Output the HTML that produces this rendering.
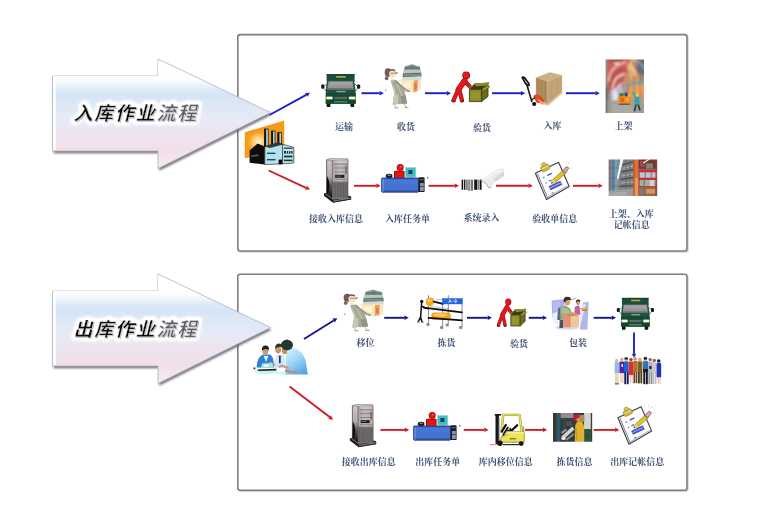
<!DOCTYPE html>
<html lang="zh-CN">
<head>
<meta charset="utf-8">
<title>入库作业流程 / 出库作业流程</title>
<style>
html,body{margin:0;padding:0;background:#fff;}
#root{position:relative;width:759px;height:521px;overflow:hidden;background:#fff;font-family:"Liberation Serif",serif;}
#root svg{position:absolute;left:0;top:0;display:block;}
.lb{font-family:"Liberation Serif","Noto Serif CJK SC",serif;font-size:9px;font-weight:bold;}
.hd{font-family:"Liberation Sans","Noto Sans CJK SC",sans-serif;font-size:19px;font-weight:bold;}
</style>
</head>
<body>
<div id="root">
<svg width="759" height="521" viewBox="0 0 759 521">
<defs>
<linearGradient id="ag" x1="0" y1="59" x2="0" y2="168.5" gradientUnits="userSpaceOnUse">
<stop offset="0" stop-color="#ffffff"/><stop offset="0.178" stop-color="#ffffff"/><stop offset="0.228" stop-color="#eef6fc"/>
<stop offset="0.283" stop-color="#dbeaf8"/><stop offset="0.335" stop-color="#d5e5f6"/><stop offset="0.42" stop-color="#dde7f6"/><stop offset="0.55" stop-color="#e7eaf6"/>
<stop offset="0.72" stop-color="#eee3ed"/><stop offset="0.84" stop-color="#f2dfe8"/><stop offset="1" stop-color="#f5ecf1"/>
</linearGradient>
<filter id="sh" x="-5%" y="-10%" width="110%" height="120%"><feGaussianBlur stdDeviation="0.8"/></filter>
<filter id="glow" x="-5%" y="-30%" width="110%" height="160%"><feGaussianBlur stdDeviation="0.9"/></filter>
<filter id="b3" x="-10%" y="-10%" width="120%" height="120%"><feGaussianBlur stdDeviation="0.35"/></filter>
<filter id="b6" x="-10%" y="-10%" width="120%" height="120%"><feGaussianBlur stdDeviation="0.6"/></filter>
<filter id="b8" x="-10%" y="-10%" width="120%" height="120%"><feGaussianBlur stdDeviation="0.8"/></filter>
<filter id="b10" x="-10%" y="-10%" width="120%" height="120%"><feGaussianBlur stdDeviation="1"/></filter>
</defs>
<rect width="759" height="521" fill="#fff"/>
<!-- panels -->
<g fill="#fff" stroke="#807e7e" stroke-width="1.6">
<rect x="238.8" y="35.6" width="449.2" height="216.4" rx="2.5" stroke="#d2d0d0" stroke-width="1.4"/>
<rect x="237.8" y="34.6" width="449.2" height="216.4" rx="2.5"/>
<rect x="238.8" y="275.2" width="449.2" height="216.1" rx="2.5" stroke="#d2d0d0" stroke-width="1.4"/>
<rect x="237.8" y="274.2" width="449.2" height="216.1" rx="2.5"/>
</g>
<!-- big arrows -->

<g transform="translate(0 0)">
  <path d="M52.5 76 H158 V59 L270.5 112.5 L158 168.5 V151 H52.5 Z" fill="#5c5e66" transform="translate(1.2 2.3)" filter="url(#sh)" opacity="0.85"/>
  <path d="M52.5 76 H158 V59 L270.5 112.5 L158 168.5 V151 H52.5 Z" fill="url(#ag)" stroke="#b4b6bc" stroke-width="0.8" stroke-linejoin="round"/>
  <path d="M53.5 77 H159 V61" fill="none" stroke="#fff" stroke-width="2" opacity="0.9"/>
  <path d="M54.5 77 V150" fill="none" stroke="#fff" stroke-width="3" opacity="0.8"/>
</g>

<g transform="translate(0 215)">
  <path d="M52.5 76 H158 V59 L270.5 112.5 L158 168.5 V151 H52.5 Z" fill="#5c5e66" transform="translate(1.2 2.3)" filter="url(#sh)" opacity="0.85"/>
  <path d="M52.5 76 H158 V59 L270.5 112.5 L158 168.5 V151 H52.5 Z" fill="url(#ag)" stroke="#b4b6bc" stroke-width="0.8" stroke-linejoin="round"/>
  <path d="M53.5 77 H159 V61" fill="none" stroke="#fff" stroke-width="2" opacity="0.9"/>
  <path d="M54.5 77 V150" fill="none" stroke="#fff" stroke-width="3" opacity="0.8"/>
</g>

<g filter="url(#glow)" fill="#fff" stroke="#fff" stroke-width="8" stroke-linejoin="round"><text class="hd" transform="translate(73.4 119.6) skewX(-14)" x="0 20.75 41.5 62.25 83 103.75" y="0">入库作业流程</text></g>
<g fill="#8e8e96" transform="translate(1.1 1.1)" opacity="0.55" filter="url(#b3)"><text class="hd" transform="translate(73.4 119.6) skewX(-14)" x="0 20.75 41.5 62.25 83 103.75" y="0">入库作业流程</text></g>
<g fill="#0c0c0c" stroke="#fff" stroke-width="0.35" filter="url(#b3)"><text class="hd" transform="translate(73.4 119.6) skewX(-14)" x="0 20.75 41.5 62.25" y="0">入库作业</text></g>
<g fill="#5e5e63" stroke="#fff" stroke-width="0.35" filter="url(#b3)"><text class="hd" transform="translate(73.4 119.6) skewX(-14)" x="83 103.75" y="0">流程</text></g>


<g filter="url(#glow)" fill="#fff" stroke="#fff" stroke-width="8" stroke-linejoin="round"><text class="hd" transform="translate(73.4 335.5) skewX(-14)" x="0 20.75 41.5 62.25 83 103.75" y="0">出库作业流程</text></g>
<g fill="#8e8e96" transform="translate(1.1 1.1)" opacity="0.55" filter="url(#b3)"><text class="hd" transform="translate(73.4 335.5) skewX(-14)" x="0 20.75 41.5 62.25 83 103.75" y="0">出库作业流程</text></g>
<g fill="#0c0c0c" stroke="#fff" stroke-width="0.35" filter="url(#b3)"><text class="hd" transform="translate(73.4 335.5) skewX(-14)" x="0 20.75 41.5 62.25" y="0">出库作业</text></g>
<g fill="#5e5e63" stroke="#fff" stroke-width="0.35" filter="url(#b3)"><text class="hd" transform="translate(73.4 335.5) skewX(-14)" x="83 103.75" y="0">流程</text></g>

<!-- flow arrows -->
<g filter="url(#b3)"><path d="M269.5 115.0 L306.2 94.9" stroke="#1c1ccc" stroke-width="1.9" fill="none"/><path d="M310.0 92.8 L307.3 96.8 L305.1 92.9 Z" fill="#1c1ccc"/><path d="M361.5 93.2 L379.5 93.2" stroke="#1c1ccc" stroke-width="1.9" fill="none"/><path d="M383.8 93.2 L379.5 95.5 L379.5 91.0 Z" fill="#1c1ccc"/><path d="M425.0 93.2 L446.7 93.2" stroke="#1c1ccc" stroke-width="1.9" fill="none"/><path d="M451.0 93.2 L446.7 95.5 L446.7 91.0 Z" fill="#1c1ccc"/><path d="M492.0 93.2 L520.9 93.2" stroke="#1c1ccc" stroke-width="1.9" fill="none"/><path d="M525.2 93.2 L520.9 95.5 L520.9 91.0 Z" fill="#1c1ccc"/><path d="M566.0 93.2 L595.5 93.2" stroke="#1c1ccc" stroke-width="1.9" fill="none"/><path d="M599.8 93.2 L595.5 95.5 L595.5 91.0 Z" fill="#1c1ccc"/><path d="M268.7 170.5 L306.1 187.8" stroke="#cf1a27" stroke-width="1.9" fill="none"/><path d="M310.0 189.6 L305.2 189.8 L307.0 185.8 Z" fill="#cf1a27"/><path d="M354.0 185.8 L376.4 185.8" stroke="#cf1a27" stroke-width="1.9" fill="none"/><path d="M380.7 185.8 L376.4 188.1 L376.4 183.6 Z" fill="#cf1a27"/><path d="M428.6 185.8 L454.7 185.8" stroke="#cf1a27" stroke-width="1.9" fill="none"/><path d="M459.0 185.8 L454.7 188.1 L454.7 183.6 Z" fill="#cf1a27"/><path d="M496.0 185.8 L528.5 185.8" stroke="#cf1a27" stroke-width="1.9" fill="none"/><path d="M532.8 185.8 L528.5 188.1 L528.5 183.6 Z" fill="#cf1a27"/><path d="M573.0 185.8 L598.5 185.8" stroke="#cf1a27" stroke-width="1.9" fill="none"/><path d="M602.8 185.8 L598.5 188.1 L598.5 183.6 Z" fill="#cf1a27"/><path d="M304.0 339.0 L333.7 320.5" stroke="#16168c" stroke-width="1.9" fill="none"/><path d="M337.3 318.2 L334.8 322.4 L332.5 318.6 Z" fill="#16168c"/><path d="M384.2 317.8 L404.4 317.8" stroke="#16168c" stroke-width="1.9" fill="none"/><path d="M408.7 317.8 L404.4 320.1 L404.4 315.6 Z" fill="#16168c"/><path d="M467.0 317.8 L487.7 317.8" stroke="#16168c" stroke-width="1.9" fill="none"/><path d="M492.0 317.8 L487.7 320.1 L487.7 315.6 Z" fill="#16168c"/><path d="M528.8 317.8 L542.7 317.8" stroke="#16168c" stroke-width="1.9" fill="none"/><path d="M547.0 317.8 L542.7 320.1 L542.7 315.6 Z" fill="#16168c"/><path d="M593.7 317.8 L611.7 317.8" stroke="#16168c" stroke-width="1.9" fill="none"/><path d="M616.0 317.8 L611.7 320.1 L611.7 315.6 Z" fill="#16168c"/><path d="M634.0 332.4 L634.0 353.7" stroke="#2020c6" stroke-width="1.9" fill="none"/><path d="M634.0 358.0 L631.8 353.7 L636.2 353.7 Z" fill="#2020c6"/><path d="M289.6 386.5 L329.6 417.1" stroke="#cf1a27" stroke-width="1.9" fill="none"/><path d="M333.0 419.7 L328.2 418.9 L331.0 415.3 Z" fill="#cf1a27"/><path d="M380.4 429.9 L404.9 429.9" stroke="#cf1a27" stroke-width="1.9" fill="none"/><path d="M409.2 429.9 L404.9 432.1 L404.9 427.6 Z" fill="#cf1a27"/><path d="M463.7 429.9 L484.3 429.9" stroke="#cf1a27" stroke-width="1.9" fill="none"/><path d="M488.6 429.9 L484.3 432.1 L484.3 427.6 Z" fill="#cf1a27"/><path d="M524.9 429.9 L542.9 429.9" stroke="#cf1a27" stroke-width="1.9" fill="none"/><path d="M547.2 429.9 L542.9 432.1 L542.9 427.6 Z" fill="#cf1a27"/><path d="M593.6 429.9 L615.1 429.9" stroke="#cf1a27" stroke-width="1.9" fill="none"/><path d="M619.4 429.9 L615.1 432.1 L615.1 427.6 Z" fill="#cf1a27"/></g>
<!-- icons -->

<!-- 01_truck.svg -->
<g id="truck" filter="url(#b3)">
  <!-- wheels -->
  <rect x="326.6" y="101.5" width="3.8" height="5.4" rx="1" fill="#0c140f"/>
  <rect x="350.4" y="101.5" width="3.8" height="5.4" rx="1" fill="#0c140f"/>
  <!-- mirrors -->
  <path d="M324.5 86 L326.5 84 M357 86 L355 84" stroke="#222" stroke-width="0.7"/>
  <rect x="321.2" y="84.6" width="3.2" height="4.2" rx="1" fill="#141a16"/>
  <rect x="357" y="84.6" width="3.2" height="4.2" rx="1" fill="#141a16"/>
  <path d="M324 88.5 L326.3 91.5 M357.6 88.5 L355.3 91.5" stroke="#333" stroke-width="0.6"/>
  <!-- cargo box -->
  <rect x="326.6" y="74.2" width="28" height="7" fill="#1c4d39"/>
  <rect x="326.6" y="74.2" width="28" height="1" fill="#16382a"/>
  <rect x="336.2" y="76" width="9.6" height="1.7" fill="#b9b83a" opacity="0.9"/>
  <!-- cab -->
  <path d="M327 80.3 H354.2 L355.6 90 V103.6 H325.8 V90 Z" fill="#1e5540"/>
  <path d="M325.8 93 H355.6 V103.6 H325.8 Z" fill="#194a37"/>
  <!-- windshield -->
  <path d="M328.4 81.2 H352.8 L353.8 89.4 H327.4 Z" fill="#96949a"/>
  <path d="M329.5 82 H351.5 L352 85 H329 Z" fill="#a7a3a9" opacity="0.8"/>
  <path d="M327.6 88.2 H353.6 L353.8 89.6 H327.4 Z" fill="#5d6a66"/>
  <!-- logo -->
  <rect x="336.5" y="90.9" width="9" height="1.3" fill="#a9b5b0" opacity="0.85"/>
  <!-- headlights -->
  <rect x="325.6" y="96.4" width="7.4" height="3.2" rx="1" fill="#f1b36a" opacity="0.55"/>
  <rect x="348.4" y="96.4" width="7.6" height="3.2" rx="1" fill="#f1b36a" opacity="0.55"/>
  <rect x="326.3" y="96.8" width="6.2" height="2.5" rx="1" fill="#ecffd8"/>
  <rect x="349" y="96.8" width="6.2" height="2.5" rx="1" fill="#ecffd8"/>
  <!-- grille -->
  <rect x="334.6" y="96.9" width="12.2" height="2.2" fill="#6f8079"/>
  <rect x="334.6" y="97.7" width="12.2" height="0.6" fill="#2a3d35"/>
  <!-- bumper -->
  <rect x="325.8" y="100.4" width="29.8" height="3.2" fill="#174331"/>
  <rect x="334" y="101.3" width="13.4" height="1.1" fill="#49a880"/>
</g>
<use href="#truck" transform="translate(310.7 225.78) scale(0.953 0.972)"/>

<!-- 02_crowd.svg -->
<g filter="url(#b6)">
  <!-- person: head, torso, legs -->
  <g>
    <circle cx="616.6" cy="360.6" r="1.7" fill="#d9b38a"/><rect x="614.6" y="362.2" width="4.4" height="11.4" fill="#93b9e6"/><rect x="614.9" y="373.4" width="3.8" height="10" fill="#e8d9a6"/><rect x="615" y="383" width="3.8" height="1.6" fill="#7a7a7a"/>
    <circle cx="621.8" cy="359.6" r="1.8" fill="#cfae9a"/><rect x="619.4" y="361.6" width="5" height="11.6" fill="#4f22a2"/><rect x="621.4" y="364" width="1.6" height="3" fill="#e9d9ee"/><rect x="620.3" y="373" width="1.3" height="9.8" fill="#eec2b0"/><rect x="622.3" y="373" width="1.3" height="9.8" fill="#eec2b0"/>
    <circle cx="626.2" cy="358.7" r="1.8" fill="#3a2a20"/><rect x="625.2" y="359.5" width="2.2" height="2" fill="#d8a888"/><rect x="623.9" y="361.4" width="4.8" height="10.6" fill="#2363d3"/><rect x="624.3" y="371.8" width="1.9" height="12.4" fill="#171f5e"/><rect x="626.8" y="371.8" width="1.9" height="12.4" fill="#171f5e"/>
    <circle cx="631" cy="359.6" r="1.7" fill="#7a4a30"/><rect x="628.9" y="361.6" width="4.4" height="13.6" rx="0.8" fill="#e22a2a"/><rect x="629.8" y="375" width="1.1" height="8.2" fill="#efc3b2"/><rect x="631.6" y="375" width="1.1" height="8.2" fill="#efc3b2"/>
    <circle cx="635.1" cy="359" r="1.7" fill="#c98d5a"/><rect x="633.2" y="361" width="4.2" height="11.4" fill="#b06f2e"/><rect x="633.5" y="372.2" width="1.6" height="11" fill="#5b3a22"/><rect x="635.7" y="372.2" width="1.6" height="11" fill="#5b3a22"/>
    <circle cx="639.9" cy="359.5" r="1.7" fill="#cfa27c"/><rect x="637.6" y="361.4" width="4.8" height="11.6" fill="#7c5e22"/><rect x="638" y="372.8" width="1.8" height="10.6" fill="#3d3a1c"/><rect x="640.4" y="372.8" width="1.8" height="10.6" fill="#3d3a1c"/>
    <circle cx="645.4" cy="358.6" r="1.8" fill="#2b2420"/><rect x="644.4" y="359.6" width="2.2" height="1.8" fill="#d8a888"/><rect x="643" y="361.2" width="5" height="11" fill="#2f6fc2"/><rect x="643" y="369" width="5" height="3.4" fill="#1a1a22"/><rect x="643.3" y="372.2" width="1.9" height="12" fill="#141418"/><rect x="645.9" y="372.2" width="1.9" height="12" fill="#141418"/>
    <circle cx="650.2" cy="359.6" r="1.7" fill="#7a6a60"/><rect x="648" y="361.6" width="4.6" height="11" fill="#a9b8c8"/><rect x="649.2" y="366" width="2.4" height="3" fill="#2a2a30"/><rect x="648.4" y="372.4" width="1.8" height="11.6" fill="#8d8f92"/><rect x="650.7" y="372.4" width="1.8" height="11.6" fill="#8d8f92"/>
    <circle cx="654.3" cy="360.4" r="1.7" fill="#8a5a6a"/><rect x="652.4" y="362.2" width="4.2" height="10.8" fill="#cfc4cc"/><rect x="652.7" y="372.8" width="1.6" height="11" fill="#b9bcc0"/><rect x="654.8" y="372.8" width="1.6" height="11" fill="#b9bcc0"/>
    <circle cx="658.7" cy="361" r="1.8" fill="#1e1c28"/><rect x="656.6" y="363" width="4.6" height="14.4" rx="1" fill="#2232b4"/><rect x="657.6" y="377.2" width="1.1" height="6.6" fill="#e4c09c"/><rect x="659.4" y="377.2" width="1.1" height="6.6" fill="#e4c09c"/>
  </g>
</g>

<!-- 03_factory.svg -->
<defs>
<radialGradient id="fglow" cx="258.5" cy="142" r="13" gradientUnits="userSpaceOnUse">
<stop offset="0" stop-color="#fff8dc"/><stop offset="0.45" stop-color="#fbd27a" stop-opacity="0.85"/><stop offset="1" stop-color="#f59a12" stop-opacity="0"/>
</radialGradient>
</defs>
<g filter="url(#b3)">
  <path d="M244.8 132.3 L284.2 120.4 V150 L244.8 158.2 Z" fill="#f59a14"/>
  <path d="M244.8 132.3 L284.2 120.4 V150 L244.8 158.2 Z" fill="url(#fglow)"/>
  <!-- chimneys -->
  <g stroke="#0d0d0d" stroke-width="0.7">
    <rect x="264.4" y="129" width="3.8" height="18" fill="#a8d8ea"/>
    <rect x="271.4" y="131" width="3.6" height="15" fill="#a8d8ea"/>
    <rect x="277.8" y="132.6" width="3.6" height="13" fill="#a8d8ea"/>
  </g>
  <rect x="264.4" y="129" width="1.7" height="18" fill="#0d0d0d"/>
  <rect x="271.4" y="131" width="1.6" height="15" fill="#0d0d0d"/>
  <rect x="277.8" y="132.6" width="1.6" height="13" fill="#0d0d0d"/>
  <!-- black left wing -->
  <path d="M249.6 150.6 L257.6 143.4 L264.8 146.4 V164.6 L249.6 162.8 Z" fill="#0e0e10"/>
  <path d="M251 155.4 L258.5 154.6 V156 L251 156.8 Z" fill="#8c8c8c" opacity="0.7"/>
  <!-- front -->
  <path d="M264.8 146.4 L278.6 142.6 L283 144.4 V163.8 L264.8 164.6 Z" fill="#b6e2ef" stroke="#0d0d0d" stroke-width="0.6"/>
  <path d="M264.8 146.4 L278.6 142.6 L283 144.4 L270 148 Z" fill="#1a1a1a" opacity="0.85"/>
  <rect x="267" y="152.6" width="8.4" height="1.4" fill="#1e4a52"/>
  <rect x="267" y="159" width="8.4" height="1.4" fill="#1e4a52"/>
  <rect x="278.6" y="159.6" width="3.6" height="4.6" fill="#0d0d0d"/>
  <!-- right wing -->
  <path d="M282.6 144.2 L293.8 147.4 V163 L282.6 163.8 Z" fill="#bfe6f1" stroke="#0d0d0d" stroke-width="0.6"/>
  <g fill="#16343c">
    <rect x="284" y="147.6" width="8.6" height="1.2"/>
    <rect x="284" y="151" width="8.6" height="2.6"/>
    <rect x="284" y="155.6" width="8.6" height="1.8"/>
    <rect x="284" y="159.6" width="8.6" height="1.6"/>
  </g>
  <g fill="#d9f1f7"><rect x="286" y="151" width="0.8" height="2.6"/><rect x="288.2" y="151" width="0.8" height="2.6"/><rect x="290.4" y="151" width="0.8" height="2.6"/></g>
</g>

<!-- 04_server.svg -->
<defs>
<linearGradient id="svside" x1="0" y1="159" x2="0" y2="197" gradientUnits="userSpaceOnUse">
<stop offset="0" stop-color="#cfc8c8"/><stop offset="0.45" stop-color="#b4acac"/><stop offset="0.7" stop-color="#5a5656"/><stop offset="1" stop-color="#141414"/>
</linearGradient>
<linearGradient id="svfront" x1="332" y1="0" x2="348" y2="0" gradientUnits="userSpaceOnUse">
<stop offset="0" stop-color="#a8a0a0"/><stop offset="0.5" stop-color="#c4bcbc"/><stop offset="1" stop-color="#b0a6a6"/>
</linearGradient>
</defs>
<g id="server" filter="url(#b3)">
  <!-- base -->
  <path d="M324 193.6 L332.4 191 L351.2 196.6 V199.6 L333 202.8 L324 195.8 Z" fill="#1a1818"/>
  <path d="M325 194 L332.6 192 L350 197 L333 200 Z" fill="#6e6a6a"/>
  <path d="M333 200 L350.8 197 V199.4 L333 202.6 Z" fill="#2a2828"/>
  <path d="M333.4 201 L350.6 198 " stroke="#c8c4c4" stroke-width="0.6"/>
  <!-- side -->
  <path d="M326.6 159.8 L332.4 160.6 V198.4 L326.6 193.4 Z" fill="url(#svside)"/>
  <path d="M327 176 Q331.5 184 328 194.4 L326.6 193.4 Z" fill="#0c0c0c"/>
  <path d="M326.6 159.8 V193.4" stroke="#3a3636" stroke-width="0.7"/>
  <!-- top -->
  <path d="M326.6 159.8 L330 158.6 L347.8 158.8 L347.8 160 L332.4 160.6 Z" fill="#d8d2d2" stroke="#5a5656" stroke-width="0.5"/>
  <!-- front -->
  <rect x="332.4" y="160.2" width="15.6" height="38.2" fill="url(#svfront)"/>
  <rect x="332.4" y="181.4" width="15.6" height="17" fill="#7a7474"/>
  <g stroke="#4e4a4a" stroke-width="0.55">
    <path d="M334 183 V197.6 M335.6 183 V197.6 M337.2 183 V197.6 M338.8 183 V197.6 M340.4 183 V197.6 M342 183 V197.6 M343.6 183 V197.6 M345.2 183 V197.6 M346.8 183 V197.6"/>
  </g>
  <g stroke="#6a6464" stroke-width="0.6">
    <path d="M334.4 164 H347.4 M334.4 168 H347.4 M334.4 172 H347.4 M334.4 179.4 H347.4"/>
  </g>
  <rect x="334.4" y="161.6" width="13" height="1.2" fill="#e2dcdc" opacity="0.7"/>
  <rect x="335.2" y="174.8" width="9.2" height="3" fill="#1c1a1a"/>
  <rect x="336.4" y="175.6" width="4.6" height="1.1" fill="#6e6a6a"/>
  <rect x="345.2" y="166" width="1.4" height="8" fill="#6a4040" opacity="0.7"/>
  <path d="M332.4 160.4 V198.4 M348 160 V198" stroke="#4a4646" stroke-width="0.6"/>
</g>
<use href="#server" transform="translate(36.58 250.98) scale(0.967 0.968)"/>

<!-- 05_carrier.svg -->
<g id="carrier" filter="url(#b6)">
  <!-- pile top layers -->
  <path d="M404.8 66.4 L412 64.2 L419.8 66.8 L420.4 70 L404.2 70 Z" fill="#66777c"/>
  <path d="M406 66.8 L412 65.2 L418 67" stroke="#9fb2b6" stroke-width="0.8" fill="none"/>
  <path d="M403.6 69.6 L420.8 69.6 L421 73.2 L403.2 73.6 Z" fill="#b9c6b8"/>
  <path d="M403 73.2 L421.2 72.8 L421.6 76.6 L402.6 77.4 Z" fill="#5b6e76"/>
  <path d="M404 75 H420.4" stroke="#9db3bb" stroke-width="0.9"/>
  <path d="M402.4 77 L421.6 76.4 L421.4 80 L401.8 80.4 Z" fill="#d8dccd"/>
  <!-- big box -->
  <path d="M401.4 79.6 L413.4 80.4 L413.2 92.4 L401.6 90.2 Z" fill="#f8e8b8"/>
  <path d="M403 82 L411 82.6 L411 88 L403 86.8 Z" fill="#fdf3d2"/>
  <path d="M413.4 80.4 L418 79.8 L417.8 91 L413.2 92.4 Z" fill="#eda264"/>
  <path d="M418 79.8 L421.4 79.2 L421 89.6 L417.8 91 Z" fill="#f6e6cb"/>
  <path d="M414.6 83.4 L416.8 83 V89 L414.6 89.6 Z" fill="#dc7038" opacity="0.85"/>
  <!-- hair / head -->
  <ellipse cx="388" cy="72.6" rx="3.3" ry="4.3" fill="#73585a"/>
  <ellipse cx="386.6" cy="78.2" rx="1.8" ry="2" fill="#7f6262"/>
  <ellipse cx="392.6" cy="73.8" rx="3.5" ry="3.8" fill="#f6e2bc"/>
  <path d="M389.6 70.6 Q392 68.8 395.2 70.8" stroke="#73585a" stroke-width="1.4" fill="none"/>
  <path d="M390.4 73.2 H396.2" stroke="#5c4a44" stroke-width="0.55"/>
  <circle cx="396.8" cy="73" r="0.8" fill="#4a3c38"/>
  <!-- neck/collar -->
  <path d="M391.6 77.6 L395 79.4 L393 82 L390.6 80 Z" fill="#f3ecdc"/>
  <!-- body -->
  <path d="M390.6 80.6 L396.6 80 L404.2 89.6 L407.2 103.4 L392.6 104.4 L394.4 93 Z" fill="#a9a998"/>
  <path d="M394.4 93 L392.6 104.4 L398 104 L398.4 95 Z" fill="#c6c6b4"/>
  <path d="M392 82 L395.6 92 L394.4 93 Z" fill="#d4d4c4"/>
  <path d="M400.4 96 L402 104 L407.2 103.4 L405.4 95 Z" fill="#93948a"/>
  <path d="M397 84 L402 96" stroke="#c9c9b8" stroke-width="0.9"/>
  <!-- arms -->
  <path d="M396 81.4 L406.4 90.4 L409 91.2" stroke="#97988a" stroke-width="1.9" fill="none" stroke-linecap="round"/>
  <path d="M398.6 80.6 L403 80.2" stroke="#f3e8d0" stroke-width="1.3"/>
  <circle cx="385.8" cy="90.1" r="0.55" fill="#222a55"/>
  <!-- legs -->
  <path d="M394.6 104 L396 108 M404 103.6 L406.4 107.4" stroke="#c9c4ac" stroke-width="1.1"/>
  <path d="M394.4 108 H398.4 M404.6 107.6 H408.4" stroke="#9a9786" stroke-width="0.9"/>
</g>
<use href="#carrier" transform="translate(-75.3 229.7) scale(1.089 0.936)"/>

<!-- 06_inspect.svg -->
<g id="inspect" filter="url(#b3)">
  <!-- person (dark outline then red) -->
  <g stroke="#7a1010" stroke-width="5.6" stroke-linecap="round" stroke-linejoin="round" fill="none">
    <path d="M464.6 80.6 L458.4 89.6"/>
  </g>
  <g stroke="#7a1010" stroke-width="4.2" stroke-linecap="round" stroke-linejoin="round" fill="none">
    <path d="M458.4 89.6 L453.4 100.4 M459.4 90 L462 100.4"/>
    <path d="M464.8 81 L469.6 86.4"/>
  </g>
  <circle cx="466.2" cy="75.3" r="3.9" fill="#7a1010"/>
  <g stroke="#e5191c" stroke-width="4.6" stroke-linecap="round" stroke-linejoin="round" fill="none">
    <path d="M464.6 80.6 L458.4 89.6"/>
  </g>
  <g stroke="#e5191c" stroke-width="3.2" stroke-linecap="round" stroke-linejoin="round" fill="none">
    <path d="M458.4 89.6 L453.4 100.4 M459.4 90 L462 100.4"/>
    <path d="M464.8 81 L469.6 86.4"/>
  </g>
  <circle cx="466.2" cy="75.3" r="3.2" fill="#e5191c"/>
  <path d="M451.6 101.2 H455.6 M460.4 101.2 H464" stroke="#a01414" stroke-width="1.6"/>
  <!-- box -->
  <path d="M469.4 89.4 L474.6 83.6 L489.6 82.6 L481.6 89.4 Z" fill="#3c3a12"/>
  <path d="M474.6 83.6 L489.6 82.6 L488 85.2 L476 86.4 Z" fill="#8f8c2c"/>
  <path d="M469.4 89.4 L468 87.2 L473.4 85.2 L474.6 83.6 Z" fill="#77751f"/>
  <path d="M469.4 89.4 H481.6 V101.6 H469.4 Z" fill="#8b8928" stroke="#35330f" stroke-width="0.8"/>
  <path d="M481.6 89.4 L488 85 V96.4 L481.6 101.6 Z" fill="#6c6a1b" stroke="#35330f" stroke-width="0.8"/>
  <path d="M481.6 89.4 L488 85 L489.8 86.8 L483.6 91.2 Z" fill="#9a9736" stroke="#35330f" stroke-width="0.5"/>
  <rect x="471" y="91.4" width="8.6" height="8" fill="#9c9a36" opacity="0.6"/>
</g>
<use href="#inspect" transform="translate(147.45 233.17) scale(0.774 0.914)"/>

<!-- 07_palletjack.svg -->
<g filter="url(#b6)">
  <!-- pallet -->
  <path d="M536.4 96.4 L547.8 103.4 L562.2 90.6 V93.4 L547.8 106 L536.4 99 Z" fill="#dcc7a0"/>
  <!-- box faces -->
  <path d="M535.9 77.4 L549.8 72.3 L562.1 75.3 L547.7 81.6 Z" fill="#cdb084"/>
  <path d="M535.9 77.4 L547.7 81.6 V104 L535.9 96.8 Z" fill="#b08e5e"/>
  <path d="M547.7 81.6 L562.1 75.3 V91.2 L547.7 104 Z" fill="#c3a377"/>
  <path d="M539 78.6 V98.6 M542 79.8 V100.4 M545 80.8 V102.2" stroke="#9a7a4e" stroke-width="0.7" opacity="0.8"/>
  <path d="M552 79.8 V100 M557 77.6 V95.6" stroke="#b09066" stroke-width="0.6" opacity="0.7"/>
  <!-- red jack body -->
  <path d="M533.2 96 Q536 93.4 540 95.4 L544.4 100.2 L543 103.6 L536.6 102.8 Z" fill="#dc4a22"/>
  <path d="M537 98.4 L544 102.6 L546 104.6 L541 104.4 Z" fill="#f3a37a"/>
  <!-- handle -->
  <path d="M522.3 77.4 Q523.6 76.4 525.2 78.4 L528.8 83.6 Q529.6 85.6 528 85.6 Q526.4 85.2 525 82.6 Z" fill="none" stroke="#101010" stroke-width="1.7"/>
  <path d="M526.6 84 L531.8 101.6" stroke="#1a1a1a" stroke-width="1.6" stroke-linecap="round"/>
  <path d="M531.6 100 L535 97.4" stroke="#151515" stroke-width="1.2"/>
  <circle cx="534.2" cy="104" r="2.1" fill="#0e0e0e"/>
</g>

<!-- 08_warehouse.svg -->
<defs><clipPath id="whc"><rect x="605.6" y="59.6" width="38.4" height="53.3"/></clipPath></defs>
<g clip-path="url(#whc)">
<g filter="url(#b8)">
  <rect x="603" y="57" width="44" height="58" fill="#a29f98"/>
  <!-- red ceiling -->
  <path d="M603 57 H632 L628 72 L622 86 L612 90 L606 96 L603 96 Z" fill="#c9605c"/>
  <path d="M606 57 H626 L620 62 L611 62 Z" fill="#b04a48"/>
  <!-- arches (concentric) -->
  <path d="M608.4 82 Q610 64.6 626.6 62.4" stroke="#f1bdb4" stroke-width="1.7" fill="none"/>
  <path d="M611 86 Q612 70.6 626 68.8" stroke="#a94444" stroke-width="1.6" fill="none"/>
  <path d="M612.6 88 Q614 75.4 625 74.2" stroke="#f6cfc6" stroke-width="1.7" fill="none"/>
  <path d="M615 90 Q616 80 623.6 79.4" stroke="#b65050" stroke-width="1.4" fill="none"/>
  <path d="M616.4 91 Q617.4 84 622.6 83.6" stroke="#f3d0cc" stroke-width="1.4" fill="none"/>
  <ellipse cx="616.8" cy="63.2" rx="2.8" ry="1.3" fill="#f7ecd0"/>
  <ellipse cx="616.6" cy="61.6" rx="2" ry="1" fill="#47684c"/>
  <!-- far corridor light -->
  <path d="M611 90 L621 85 L623 98 L612 101 Z" fill="#cfc7df"/>
  <path d="M613 92 L617 90 L617.6 100 L613.6 101 Z" fill="#e9e4f2"/>
  <path d="M619 88 V99" stroke="#8b86b0" stroke-width="1.2"/>
  <!-- right building orange -->
  <path d="M630 60 L646 57 V100 L622 98 L624 84 Z" fill="#dc9a62"/>
  <path d="M627 66 L633 60 L637 62 L636 76 L628 78 Z" fill="#e8ab72"/>
  <path d="M628 64 L632 70 M631 62 L635 74" stroke="#f6dcb8" stroke-width="0.8"/>
  <!-- slate beams top right -->
  <path d="M636 57 H647 V78 L638 72 Z" fill="#5f6a80"/>
  <path d="M637 60 L646 70" stroke="#dfe4ec" stroke-width="0.9"/>
  <path d="M633 62 L646 86" stroke="#59667e" stroke-width="1.8"/>
  <!-- teal band -->
  <path d="M622 84.6 L646 79 V83 L622 88 Z" fill="#7fa39a"/>
  <path d="M624 90.6 L646 88.6" stroke="#6d8fb0" stroke-width="1.5"/>
  <path d="M628 70 V98 M634 76 V98 M640 72 V100" stroke="#7f7480" stroke-width="0.9"/>
  <rect x="629.2" y="86.4" width="4.4" height="7.4" fill="#f09c48"/>
  <rect x="635.2" y="85" width="4.2" height="8.4" fill="#f2a552"/>
  <rect x="640.8" y="84" width="3.4" height="9" fill="#eea050"/>
  <!-- left column -->
  <rect x="603" y="57" width="4.4" height="60" fill="#8f8d83"/>
  <rect x="603" y="88" width="4.6" height="28" fill="#6a6963"/>
  <path d="M608 84 V100" stroke="#77716d" stroke-width="1"/>
  <!-- floor -->
  <path d="M607.6 101 L646 98 V116 H607.6 Z" fill="#9f9e97"/>
  <path d="M612 104 L630 103 L634 113 H612 Z" fill="#aaa9a3"/>
</g>
<g filter="url(#b6)">
  <!-- forklift -->
  <rect x="618.4" y="95.8" width="12.2" height="7.8" rx="1" fill="#f28a1a"/>
  <rect x="620.4" y="97.8" width="3.6" height="4.2" fill="#e2620e"/>
  <rect x="626" y="98" width="3" height="3.6" fill="#f7a83a"/>
  <rect x="619.6" y="93" width="4" height="3.2" fill="#3d7f45"/>
  <rect x="624.6" y="92.6" width="3" height="3.6" fill="#2a3f9a"/>
  <rect x="628" y="93.4" width="2.6" height="3" fill="#c9c23a"/>
  <path d="M619 104.2 H630" stroke="#5a4a3a" stroke-width="1.2"/>
  <!-- person -->
  <path d="M636 97 L633 92.6" stroke="#3aa7ad" stroke-width="1.8" stroke-linecap="round"/>
  <rect x="634.6" y="96.8" width="4.8" height="8" rx="1" fill="#32a2aa"/>
  <circle cx="637.4" cy="95" r="1.7" fill="#ead24a"/>
  <path d="M636 104.6 L634.4 111.2 M638.2 104.6 L640 110.6" stroke="#2e3636" stroke-width="1.6"/>
</g>
</g>

<!-- 09_desk.svg -->
<defs>
<linearGradient id="deskg" x1="0" y1="178" x2="0" y2="192.6" gradientUnits="userSpaceOnUse">
<stop offset="0" stop-color="#2f55b4"/><stop offset="0.15" stop-color="#4a78d6"/><stop offset="0.8" stop-color="#4170d0"/><stop offset="1" stop-color="#23408e"/>
</linearGradient>
</defs>
<g id="desk" filter="url(#b3)">
  <!-- phone -->
  <ellipse cx="389.1" cy="175.9" rx="3.4" ry="2.2" fill="#15181a"/>
  <ellipse cx="389.1" cy="175.4" rx="1.8" ry="0.8" fill="#7d8a8c"/>
  <!-- person -->
  <rect x="394" y="170.8" width="10.6" height="8" rx="1" fill="#8c0f0f"/>
  <rect x="394.8" y="171.5" width="9" height="7" fill="#e41313"/>
  <circle cx="400.2" cy="167.6" r="3.5" fill="#8c0f0f"/>
  <circle cx="400.2" cy="167.6" r="2.8" fill="#e61616"/>
  <circle cx="400.8" cy="166.8" r="1" fill="#f06060" opacity="0.8"/>
  <!-- monitor -->
  <rect x="405" y="167" width="11.2" height="10.6" fill="#c9d6ee"/>
  <rect x="405.7" y="167.8" width="9.8" height="9" fill="#3cc2b6"/>
  <rect x="408.4" y="170" width="4" height="4" fill="#22337f"/>
  <rect x="407.6" y="177.4" width="6.4" height="1.6" fill="#d9a9d3"/>
  <!-- desk -->
  <rect x="381.6" y="178" width="37" height="14.2" rx="0.8" fill="url(#deskg)" stroke="#1d357a" stroke-width="0.8"/>
  <rect x="382.4" y="179" width="1.4" height="12.8" fill="#7fa2e8" opacity="0.6"/>
  <!-- tower -->
  <rect x="418.4" y="177.2" width="6.2" height="14.9" rx="0.8" fill="#1c1d25"/>
  <rect x="420" y="183" width="3.8" height="8" fill="#8797a8"/>
  <rect x="420" y="186" width="3.8" height="1" fill="#3a4250"/>
  <rect x="419.4" y="179" width="4.4" height="1.4" fill="#50535e"/>
  <circle cx="427.8" cy="177.8" r="0.7" fill="#5a2a3a"/>
</g>
<use href="#desk" transform="translate(32 248)"/>

<!-- 10_barcode.svg -->
<g filter="url(#b6)">
  <!-- barcode -->
  <g>
    <rect x="461.6" y="179.6" width="1.5" height="10.2" fill="#151515"/>
    <rect x="463.9" y="179.6" width="1.5" height="10.2" fill="#1c1c1c"/>
    <rect x="466.2" y="179.6" width="1.5" height="10.4" fill="#6a6a6a"/>
    <rect x="468.2" y="179.6" width="2.2" height="11.4" fill="#8c8c8c"/>
    <rect x="470.9" y="179.6" width="2.2" height="11" fill="#767676"/>
    <rect x="474.2" y="179.6" width="3.2" height="10.2" fill="#131313"/>
    <rect x="478.1" y="179.6" width="1.1" height="10.2" fill="#7a7a7a"/>
    <rect x="479.7" y="179.6" width="1.9" height="10.2" fill="#161616"/>
  </g>
  <!-- scanner -->
  <path d="M481.4 180.4 L496.6 170.4 L502.8 168.8 L503.2 173 L494.4 178.8 L490.8 188 L488.2 187.4 L487 184.6 Z" fill="#ececf0" stroke="#c6c7cf" stroke-width="0.5"/>
  <path d="M481.4 180.4 L487 184.6 L488.2 187.4 L490.8 188" fill="none" stroke="#a9abb5" stroke-width="0.9"/>
  <path d="M494.4 178.8 L503.2 173 L503.6 176 L495.2 181.4 Z" fill="#dcdde3" stroke="#b6b7c0" stroke-width="0.5"/>
  <path d="M484 179.4 L497 171.4 L502 170" stroke="#f6f6f8" stroke-width="1.6" fill="none"/>
</g>

<!-- 11_clipboard.svg -->
<g id="clipb" filter="url(#b6)">
  <!-- board polygon -->
  <path d="M535.4 173.2 L558.6 162.2 L569.2 186.5 L546.5 199.6 Z" fill="#fdfdff" stroke="#3b3b46" stroke-width="1.1" stroke-linejoin="round"/>
  <path d="M537.4 173.6 L547.8 198.4" stroke="#5a5a66" stroke-width="0.8" fill="none"/>
  <path d="M547.4 197.4 L567.6 185.6" stroke="#8a8a96" stroke-width="0.7" fill="none"/>
  <g transform="translate(535.7 173.2) rotate(-25.6)">
    <!-- clip -->
    <rect x="6.6" y="-3.4" width="8.6" height="5.6" rx="1.4" fill="#cdb638" stroke="#8d7a1c" stroke-width="0.5"/>
    <rect x="8.8" y="-6.2" width="4.2" height="3.6" rx="1.6" fill="#d7c450" stroke="#8d7a1c" stroke-width="0.5"/>
    <rect x="7.6" y="-1.8" width="6.6" height="1" fill="#f1e6a0"/>
    <!-- text marks -->
    <rect x="9.4" y="6.4" width="5" height="1.3" fill="#3b52b8"/>
    <rect x="4.6" y="6.6" width="1.6" height="1.4" fill="#6b7fd0"/>
    <rect x="4.4" y="12.6" width="1.6" height="1.4" fill="#8795d6"/>
    <rect x="8.4" y="12.4" width="3" height="1.2" fill="#5468c2"/>
    <!-- blue block -->
    <rect x="6" y="17.4" width="13" height="4.4" fill="#3a55c4"/>
    <rect x="6.4" y="19" width="12.2" height="1" fill="#a8b6ee"/>
    <rect x="5.6" y="24.6" width="2.2" height="1.2" fill="#6b7fd0"/>
  </g>
  <!-- pencil -->
  <path d="M551.2 183.4 L552.8 179.6 L562.4 170.8 L565.4 173.4 L555.8 182.2 Z" fill="#e2c222" stroke="#6e5c10" stroke-width="0.5"/>
  <path d="M551.2 183.4 L552.8 179.6 L555.8 182.2 Z" fill="#efd9a4"/>
  <path d="M551.2 183.4 L551.9 181.8 L553 182.8 Z" fill="#222"/>
  <path d="M562.4 170.8 L566 167 Q568.2 166.2 568.8 168.4 L565.4 173.4 Z" fill="#e8a8a6" stroke="#4a3a3a" stroke-width="0.6"/>
  <path d="M562.4 170.8 L565.4 173.4" stroke="#7d7d86" stroke-width="1.2"/>
  <path d="M568.4 163.6 l1.4 -1.6 M570.4 168.4 l1.8 -0.6 M566 162.4 l0.4 -1.6" stroke="#b9bcc6" stroke-width="0.7"/>
</g>
<use href="#clipb" transform="translate(82.5 244.6)"/>

<!-- 12_racks.svg -->
<defs><clipPath id="rkc"><rect x="608.7" y="159.5" width="48.5" height="36.4"/></clipPath></defs>
<g clip-path="url(#rkc)">
<g filter="url(#b6)">
  <rect x="606" y="157" width="54" height="42" fill="#84878b"/>
  <!-- left blue-gray racks -->
  <rect x="606" y="157" width="14.6" height="42" fill="#6f8ea4"/>
  <rect x="606" y="157" width="3.4" height="42" fill="#714a49"/>
  <rect x="609.4" y="157" width="1.4" height="42" fill="#8b6e70"/>
  <rect x="612.4" y="157" width="1.8" height="42" fill="#4c7896"/>
  <rect x="615.4" y="160" width="1.2" height="36" fill="#8fa6b6"/>
  <rect x="616.6" y="172" width="3" height="20" fill="#8d99a2"/>
  <path d="M610 168 H620 M610 178 H619 M610 186 H619" stroke="#55748a" stroke-width="0.9"/>
  <!-- white gap -->
  <path d="M620.8 157 H624.2 L618.6 179 L616.8 179 Z" fill="#f4f4f4"/>
  <!-- center racks -->
  <path d="M624.2 157 H634 V199 H618 L618.6 179 Z" fill="#7f8387"/>
  <path d="M622.6 165 L633.4 161.6 M621.4 172 L633.4 169.6 M620.4 179.4 L633.4 177.6 M619.6 186.4 L633.4 185.6" stroke="#57494d" stroke-width="1.5"/>
  <path d="M623 168.4 L633 165.8 M621.8 176 L633 173.8 M620.6 183 L633 181.8" stroke="#a6adb4" stroke-width="1.2"/>
  <path d="M626 158 V190 M629.6 158 V189" stroke="#5e6870" stroke-width="0.8"/>
  <!-- floor -->
  <path d="M606 191 L633.4 188.4 V199 H606 Z" fill="#9c9b99"/>
  <path d="M610 193 L626 191.6 L628 197 H610 Z" fill="#a9a8a6"/>
  <!-- orange post -->
  <rect x="633.4" y="157" width="5.2" height="42" fill="#dd6f30"/>
  <rect x="634" y="178" width="4.2" height="20" fill="#ef9456"/>
  <rect x="633.4" y="157" width="1.2" height="42" fill="#b4541f"/>
  <!-- right racks -->
  <rect x="638.6" y="157" width="20" height="42" fill="#8f6a60"/>
  <rect x="638.6" y="157" width="20" height="11.8" fill="#7b3333"/>
  <rect x="640" y="161" width="5" height="6" fill="#9a4a48"/>
  <rect x="646" y="163.4" width="7" height="5.2" fill="#6f8a78"/>
  <rect x="640" y="172.2" width="17" height="5.6" fill="#c3c6cf"/>
  <rect x="644.6" y="172.2" width="1.2" height="5.6" fill="#7c7f8c"/>
  <rect x="650.6" y="172.2" width="1.2" height="5.6" fill="#7c7f8c"/>
  <rect x="640" y="180" width="17" height="6" fill="#9fb0a4"/>
  <rect x="650" y="180" width="4" height="6" fill="#d6d2d6"/>
  <rect x="643.6" y="180" width="1.2" height="6" fill="#6d7a72"/>
  <rect x="638.6" y="186.6" width="20" height="12" fill="#a36544"/>
  <rect x="646" y="189" width="9" height="4.6" fill="#c79a6c"/>
  <rect x="640" y="189.4" width="4.4" height="5" fill="#6f7f86"/>
  <rect x="638.6" y="170" width="20" height="2.2" fill="#d22a3a"/>
  <rect x="638.6" y="177.8" width="20" height="2.2" fill="#d22a3a"/>
  <rect x="638.6" y="186" width="20" height="1.4" fill="#b84a34"/>
  <path d="M643.4 163 L649.4 159" stroke="#f4ecec" stroke-width="1.2"/>
  <rect x="655.4" y="157" width="2.4" height="42" fill="#8e4040" opacity="0.8"/>
</g>
</g>

<!-- 13_meeting.svg -->
<defs>
<linearGradient id="shirtC" x1="288" y1="348" x2="306" y2="374" gradientUnits="userSpaceOnUse">
<stop offset="0" stop-color="#d2f0ff"/><stop offset="0.45" stop-color="#9fd6f8"/><stop offset="1" stop-color="#4e9fe4"/>
</linearGradient>
</defs>
<g filter="url(#b6)">
  <!-- soft cyan floor glow -->
  <ellipse cx="266" cy="371.6" rx="12" ry="2.6" fill="#bdeff0" opacity="0.8"/>
  <ellipse cx="284" cy="373" rx="8" ry="2" fill="#c8f2f2" opacity="0.7"/>
  <!-- person A -->
  <path d="M256.6 367.6 Q257 357 263 354.6 L270 354.4 Q274 356 274 367.6 Z" fill="#2f80d8"/>
  <path d="M263.6 356 L266 362 L268.4 356 Z" fill="#e9f3ff"/>
  <ellipse cx="265.4" cy="351" rx="3.1" ry="3.6" fill="#c99a72"/>
  <path d="M261.8 350.4 Q261.6 345.8 265.6 345.6 Q269.4 345.8 269 350 Q266 347.6 261.8 350.4 Z" fill="#1e2626"/>
  <!-- person B -->
  <path d="M274 368 Q274 357 278 354.6 L284 355 L286 368 Z" fill="#cfe9fb"/>
  <rect x="279" y="355.6" width="1.7" height="7.6" fill="#1f2f60"/>
  <ellipse cx="278.2" cy="349.6" rx="3" ry="3.8" fill="#c89468"/>
  <path d="M275 348.6 Q275 343.6 279 343.4 Q282 343.8 282 347 Q278.6 346 275 348.6 Z" fill="#2a3028"/>
  <!-- person C -->
  <path d="M285.4 374.6 L286 356 Q287 349 293 347.6 Q302 350 305.6 360 L307.8 374.4 Z" fill="url(#shirtC)"/>
  <ellipse cx="284.6" cy="350.6" rx="2.8" ry="3.6" fill="#c48e62"/>
  <ellipse cx="287" cy="345" rx="6" ry="5.2" fill="#25362e"/>
  <path d="M281.4 346.6 Q283 341 288 340.4" stroke="#25362e" stroke-width="2" fill="none"/>
  <!-- arms / hands -->
  <path d="M288 368 L281.6 365.6 L279.6 366.6" stroke="#c99a72" stroke-width="2" fill="none" stroke-linecap="round"/>
  <path d="M297 372 L291 372.4 L286 370.6" stroke="#c48e62" stroke-width="2.2" fill="none" stroke-linecap="round"/>
  <path d="M270 362.6 L274.6 364.6" stroke="#c99a72" stroke-width="1.8" stroke-linecap="round"/>
  <!-- table items -->
  <path d="M262 363.4 L272 363 L274 367.6 L261 368 Z" fill="#a9e3da"/>
  <rect x="263.6" y="364.6" width="5" height="2" fill="#f4fbfb"/>
  <path d="M257.4 369.4 L276.8 368.8 L276 370.6 L258.6 371 Z" fill="#1c242c"/>
  <circle cx="254.4" cy="368.4" r="1.1" fill="#3a4a52"/>
</g>

<!-- 14_picking.svg -->
<g filter="url(#b6)">
  <!-- back thin shelves -->
  <path d="M436 300 L448.3 298.6 M430 306 L448.3 309 M436 315 L448.3 316.2" stroke="#b9bcd6" stroke-width="0.9"/>
  <!-- posts -->
  <path d="M428.5 295.2 V323.6 M448.3 295.2 V324.2 M442.6 298 V327.2 M462 298 V327.2" stroke="#858ba8" stroke-width="1"/>
  <!-- wheels -->
  <g fill="#8f8f93"><rect x="426.4" y="323" width="3.2" height="3" rx="1"/><rect x="440" y="326" width="3.4" height="3" rx="1"/><rect x="445.6" y="323.4" width="3.2" height="3" rx="1"/><rect x="459" y="326" width="3.4" height="3" rx="1"/></g>
  <!-- orange goods -->
  <path d="M425.8 300 Q427 297.2 431 297.6 Q434.4 298 434 302 Q433.6 306.2 429 306 Q425 305.6 425.8 300 Z" fill="#f2a81f"/>
  <ellipse cx="429.4" cy="300.6" rx="2.4" ry="1.6" fill="#f8d469" opacity="0.8"/>
  <rect x="431.4" y="312.6" width="19.4" height="7.2" rx="2.6" fill="#f3a71e"/>
  <ellipse cx="440" cy="315" rx="6.6" ry="1.6" fill="#f9d873" opacity="0.8"/>
  <!-- black shelves -->
  <g stroke="#0f0f12" stroke-width="1.7" stroke-linecap="round" fill="none">
    <path d="M433.8 301.7 L443 303.8"/>
    <path d="M423.6 307.7 L462 312.3"/>
    <path d="M428.5 317.8 L462 320.3"/>
  </g>
  <!-- sign -->
  <rect x="442.5" y="298" width="20" height="6.2" fill="#2163e2"/>
  <rect x="442.5" y="298" width="20" height="1.2" fill="#4d8cf0"/>
  <path d="M448.6 302.6 L450 299.6 L451.4 302.6 M449.2 301.6 H450.8 M452.4 301.2 H453.8 M455 299.8 V302.6 M455 299.8 H456.2 Q457.2 300.4 456.2 301.2 H455 M456.2 301.2 Q457.6 301.9 456.2 302.6 H455" stroke="#eaf2ff" stroke-width="0.7" fill="none"/>
  <!-- stick person -->
  <circle cx="421.7" cy="301.4" r="1.7" fill="#0f0f12"/>
  <path d="M421.6 303 L420.6 317.2 L418.2 321.6 M420.6 317.2 L422 321.8 M421.4 306 L427.2 308.6" stroke="#0f0f12" stroke-width="1.5" fill="none" stroke-linecap="round"/>
  <path d="M417 322 H419.6 M421.6 322.2 H424" stroke="#8a8a8e" stroke-width="1"/>
</g>

<!-- 15_packing.svg -->
<g filter="url(#b6)">
  <!-- lavender backgrounds -->
  <path d="M551.6 300.6 L564 299.2 L564.6 312 L552.4 318 Z" fill="#a3a9ea" opacity="0.92"/>
  <path d="M553 302 L560 301.4 L560 309 L553.4 312 Z" fill="#b9bef2" opacity="0.9"/>
  <path d="M583 302.4 L588.8 301.8 L587.4 329.8 L579.8 329.4 Z" fill="#a9b0ea" opacity="0.9"/>
  <path d="M579 318 L583.6 304 L585.6 304 L581.4 322 Z" fill="#e6e8fa"/>
  <ellipse cx="567" cy="327.6" rx="12" ry="2.2" fill="#d3d3f2" opacity="0.9"/>
  <path d="M552.4 314 L558 311 L558 326 L553 322 Z" fill="#eceefb"/>
  <!-- man body -->
  <path d="M557.4 320 L558 309 Q560 305.6 566 305.8 L570.8 309 L571 319.4 Z" fill="#86aa94"/>
  <path d="M562 307 L569 309.4 L569 316 L562 315 Z" fill="#a9bf9c"/>
  <path d="M557.4 320 L558 309 L560 307 L560.4 320 Z" fill="#566d7c"/>
  <path d="M559.6 320 L559.4 328 L563 328 L563 320 Z" fill="#4d4f66"/>
  <!-- man head -->
  <ellipse cx="567.2" cy="302" rx="2.9" ry="3.5" fill="#d7a172"/>
  <path d="M563.6 301.2 Q563.2 296.8 567.6 296.8 Q571.4 297.2 571 300.2 Q567.4 298.6 564.6 302.4 Z" fill="#3d2e27"/>
  <path d="M571 300 L576 298.4" stroke="#8d93c0" stroke-width="0.8"/>
  <!-- woman -->
  <path d="M574.2 315 L574.8 307 Q576.6 304.8 579.4 305.6 L580.6 314.6 Z" fill="#c162a2"/>
  <ellipse cx="578" cy="302.8" rx="1.9" ry="2.3" fill="#c9906a"/>
  <path d="M575.8 302.6 Q575.8 299.6 578.6 299.6 Q580.8 300 580.2 302 L578 301 Z" fill="#2f2028"/>
  <path d="M579.6 308.4 L584 309.4" stroke="#d9a57c" stroke-width="1.4"/>
  <rect x="581.6" y="308" width="6" height="2.2" fill="#e2a252"/>
  <rect x="582" y="310" width="5" height="1" fill="#b9783a"/>
  <!-- arms of man -->
  <path d="M569 311.4 L575.4 314.2" stroke="#d7a172" stroke-width="1.8" stroke-linecap="round"/>
  <path d="M561 312 L566 315.6" stroke="#d7a172" stroke-width="1.6" stroke-linecap="round"/>
  <!-- box -->
  <path d="M562.8 314.6 L572 313.6 L579 315 L578.4 327 L563.2 327.2 Z" fill="#eeb37a"/>
  <path d="M562.8 314.6 L570 316.4 L570.2 327.2 L563.2 327.2 Z" fill="#e2917a"/>
  <path d="M570 316.4 L579 315 L578.4 327 L570.2 327.2 Z" fill="#f2c796"/>
  <path d="M562.8 314.6 L572 313.6 L579 315 L570 316.4 Z" fill="#c98a5a"/>
  <path d="M570 316.4 L570.2 327.2" stroke="#c77f5c" stroke-width="0.6"/>
</g>

<!-- 16_forklift.svg -->
<g filter="url(#b3)">
  <!-- forks -->
  <path d="M489.6 444.6 H498" stroke="#de8f8f" stroke-width="1.1"/>
  <!-- cab frame -->
  <path d="M501.4 432.6 L503.2 414.9 H519.6 L521.8 431.8" fill="none" stroke="#9d9622" stroke-width="2.4" stroke-linejoin="round"/>
  <path d="M501.4 432.6 L503.2 414.9 H519.6 L521.8 431.8" fill="none" stroke="#ece65f" stroke-width="1.4" stroke-linejoin="round"/>
  <!-- steering / seat -->
  <path d="M501.8 431.6 L505.8 425" stroke="#101012" stroke-width="2.2" stroke-linecap="round"/>
  <path d="M503.2 435 L507.8 427.6" stroke="#101012" stroke-width="1.8" stroke-linecap="round"/>
  <path d="M508 431 L512.2 430 L517.2 425.2" stroke="#101012" stroke-width="2.2" fill="none" stroke-linecap="round" stroke-linejoin="round"/>
  <path d="M509.6 428 L511.6 430.4" stroke="#101012" stroke-width="1.2"/>
  <!-- body -->
  <path d="M500.6 442.2 L501 437 L507 434.6 V431.6 H524.2 V442.2 Z" fill="#ece45c" stroke="#8a8420" stroke-width="0.8" stroke-linejoin="round"/>
  <path d="M507 431.6 H524.2 V433.8 H507 Z" fill="#f5f08a"/>
  <rect x="509.6" y="438.2" width="6.4" height="1.1" fill="#6f6818"/>
  <rect x="522.6" y="426.4" width="1.2" height="5.4" fill="#8b8a50"/>
  <!-- mast -->
  <rect x="495.5" y="414.4" width="3.4" height="29.4" fill="#141416"/>
  <rect x="494.8" y="414" width="6.2" height="1.6" fill="#141416"/>
  <rect x="498.4" y="417" width="1" height="24" fill="#5a5a60"/>
  <!-- wheels -->
  <circle cx="500" cy="443.2" r="2.7" fill="#121214"/>
  <circle cx="521.2" cy="443.6" r="2.4" fill="#121214"/>
  <path d="M503 444.6 H519" stroke="#2a2a20" stroke-width="1.2"/>
</g>

<!-- 17_worker.svg -->
<defs><clipPath id="wkc"><rect x="553" y="413" width="39.2" height="28.8"/></clipPath></defs>
<g clip-path="url(#wkc)">
<g filter="url(#b6)">
  <rect x="551" y="411" width="44" height="33" fill="#3a3a3e"/>
  <rect x="551" y="411" width="5.6" height="33" fill="#42302f"/>
  <rect x="556.4" y="411" width="4.4" height="33" fill="#2f5868"/>
  <rect x="560.6" y="411" width="13" height="33" fill="#2f3a3a"/>
  <rect x="560.6" y="411" width="13" height="7" fill="#9a8a8c"/>
  <rect x="561" y="418" width="12" height="2" fill="#264e46"/>
  <rect x="563" y="418" width="2" height="14" fill="#2a5148"/>
  <rect x="566" y="421" width="6" height="5" fill="#584a52"/>
  <!-- light cylinder diagonal -->
  <path d="M561.4 436.4 L572.4 426.4 L574.4 429.6 L563.4 439.6 Z" fill="#d9d2da"/>
  <path d="M561 432 L566 428.6 L567 430.6 L562 434 Z" fill="#9a8ea0"/>
  <ellipse cx="563.4" cy="438.4" rx="2.2" ry="1.6" fill="#f0e6ea"/>
  <path d="M566 440 L574 434" stroke="#8a9688" stroke-width="1.6"/>
  <!-- right side -->
  <rect x="584" y="411" width="10" height="18.4" fill="#d2d2d2"/>
  <rect x="584" y="429" width="10" height="14" fill="#2a5a3c"/>
  <rect x="590.8" y="411" width="2" height="33" fill="#3c3c3c"/>
  <rect x="586" y="433" width="3" height="5" fill="#5a3048" opacity="0.7"/>
  <!-- khaki behind worker -->
  <rect x="578.4" y="415" width="6" height="7" fill="#9f9152"/>
  <!-- worker -->
  <path d="M574.8 442 L575.2 426 Q576 421.4 579.6 421 Q584 422 584.2 428 V442 Z" fill="#e1b12a"/>
  <path d="M576 428 L577 441" stroke="#c4921c" stroke-width="1"/>
  <ellipse cx="578.2" cy="419.6" rx="2" ry="2.2" fill="#c89070"/>
  <path d="M573.4 420.6 Q573 414.4 577 414 Q580 414.2 579.6 417.4 L576.4 418.4 L575.6 421 Z" fill="#c9182f"/>
  <circle cx="580.4" cy="434" r="1.2" fill="#d8a070"/>
</g>
</g>

<!-- labels -->
<g fill="#3f4f74" filter="url(#b3)" class="lb" text-anchor="middle">
<text x="343.9" y="130.42">运输</text>
<text x="406.1" y="130.32">收货</text>
<text x="482.1" y="130.62">验货</text>
<text x="552.5" y="129.12">入库</text>
<text x="623.5" y="129.32">上架</text>
<text x="336.1" y="221.92">接收入库信息</text>
<text x="407.5" y="221.92">入库任务单</text>
<text x="481.6" y="221.22">系统录入</text>
<text x="554.7" y="221.72">验收单信息</text>
<text x="631.3" y="216.52">上架、入库</text>
<text x="631.7" y="228.02">记帐信息</text>
<text x="365.5" y="345.72">移位</text>
<text x="446.4" y="346.02">拣货</text>
<text x="518.9" y="347.22">验货</text>
<text x="578.0" y="346.02">包装</text>
<text x="368.7" y="465.12">接收出库信息</text>
<text x="437.7" y="465.42">出库任务单</text>
<text x="505.7" y="465.42">库内移位信息</text>
<text x="574.4" y="465.42">拣货信息</text>
<text x="637.3" y="465.42">出库记帐信息</text>
</g>
</svg>
</div>
</body>
</html>
